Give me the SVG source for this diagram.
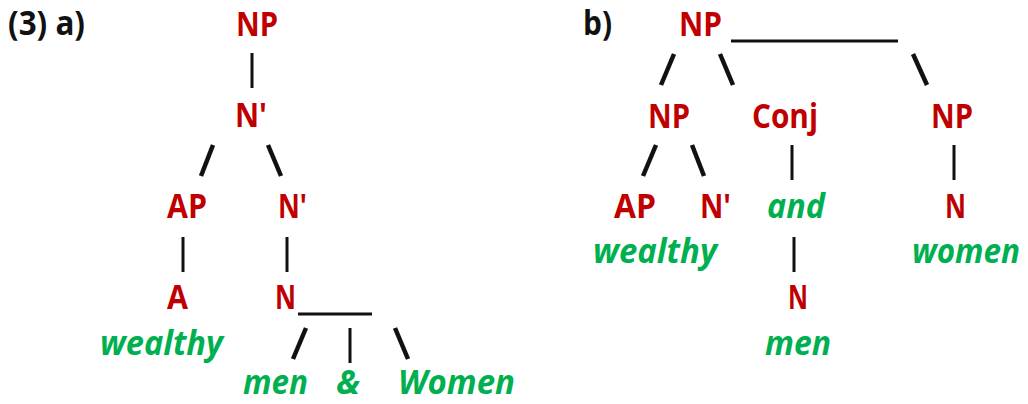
<svg xmlns="http://www.w3.org/2000/svg" width="1028" height="404" viewBox="0 0 1028 404">
<style>
text{font-family:"Open Sans","Liberation Sans",sans-serif;font-weight:bold;font-size:34px}
.lbl{fill:#111}
.cat{fill:#C00000}
.word{fill:#00B050;font-style:italic}
.c line{stroke:#111;stroke-width:3}
.c line.s{stroke-width:4.5}
</style>
<rect width="1028" height="404" fill="#fff"/>
<text class="lbl" x="8" y="35" textLength="77" lengthAdjust="spacingAndGlyphs">(3) a)</text>
<text class="lbl" x="583" y="35" textLength="29" lengthAdjust="spacingAndGlyphs">b)</text>
<g class="c" id="connectors">
<line x1="252" y1="53" x2="252" y2="88"/>
<line class="s" x1="213" y1="145" x2="201" y2="176"/>
<line class="s" x1="268" y1="145" x2="281" y2="176"/>
<line x1="183" y1="237" x2="183" y2="272"/>
<line x1="287" y1="237" x2="287" y2="272"/>
<line x1="298" y1="314" x2="372" y2="314"/>
<line class="s" x1="306" y1="328" x2="293" y2="359"/>
<line x1="350" y1="328" x2="350" y2="363"/>
<line class="s" x1="395" y1="328" x2="408" y2="359"/>
<line x1="731" y1="41" x2="898" y2="41"/>
<line class="s" x1="674" y1="54" x2="661" y2="85"/>
<line class="s" x1="720" y1="54" x2="733" y2="85"/>
<line class="s" x1="913" y1="54" x2="927" y2="85"/>
<line class="s" x1="656" y1="145" x2="643" y2="176"/>
<line class="s" x1="692" y1="145" x2="704" y2="176"/>
<line x1="792" y1="145" x2="792" y2="180"/>
<line x1="954" y1="145" x2="954" y2="180"/>
<line x1="794" y1="237" x2="794" y2="272"/>
</g>
<g id="a-np"><text class="cat" x="236" y="36" textLength="42" lengthAdjust="spacingAndGlyphs">NP</text></g>
<g id="a-nbar1"><text class="cat" x="235" y="127" textLength="32" lengthAdjust="spacingAndGlyphs">N'</text></g>
<g id="a-ap"><text class="cat" x="167" y="218" textLength="40" lengthAdjust="spacingAndGlyphs">AP</text></g>
<g id="a-nbar2"><text class="cat" x="278" y="218" textLength="29" lengthAdjust="spacingAndGlyphs">N'</text></g>
<g id="a-a"><text class="cat" x="167" y="309" textLength="21" lengthAdjust="spacingAndGlyphs">A</text></g>
<g id="a-n"><text class="cat" x="275" y="309" textLength="21" lengthAdjust="spacingAndGlyphs">N</text></g>
<g id="a-wealthy"><text class="word" x="100" y="355" textLength="123" lengthAdjust="spacingAndGlyphs">wealthy</text></g>
<g id="a-men"><text class="word" x="243" y="394" textLength="65" lengthAdjust="spacingAndGlyphs">men</text></g>
<g id="a-amp"><text class="word" x="336" y="394" textLength="24" lengthAdjust="spacingAndGlyphs">&amp;</text></g>
<g id="a-women"><text class="word" x="398" y="394" textLength="117" lengthAdjust="spacingAndGlyphs">Women</text></g>
<g id="b-np"><text class="cat" x="679" y="36" textLength="43" lengthAdjust="spacingAndGlyphs">NP</text></g>
<g id="b-np1"><text class="cat" x="648" y="128" textLength="42" lengthAdjust="spacingAndGlyphs">NP</text></g>
<g id="b-conj"><text class="cat" x="752" y="128" textLength="66" lengthAdjust="spacingAndGlyphs">Conj</text></g>
<g id="b-np2"><text class="cat" x="931" y="128" textLength="42" lengthAdjust="spacingAndGlyphs">NP</text></g>
<g id="b-ap"><text class="cat" x="614" y="218" textLength="42" lengthAdjust="spacingAndGlyphs">AP</text></g>
<g id="b-nbar"><text class="cat" x="700" y="218" textLength="31" lengthAdjust="spacingAndGlyphs">N'</text></g>
<g id="b-and"><text class="word" x="767" y="218" textLength="58" lengthAdjust="spacingAndGlyphs">and</text></g>
<g id="b-n2"><text class="cat" x="945" y="218" textLength="21" lengthAdjust="spacingAndGlyphs">N</text></g>
<g id="b-wealthy"><text class="word" x="593" y="263" textLength="124" lengthAdjust="spacingAndGlyphs">wealthy</text></g>
<g id="b-women"><text class="word" x="912" y="263" textLength="108" lengthAdjust="spacingAndGlyphs">women</text></g>
<g id="b-n1"><text class="cat" x="788" y="309" textLength="20" lengthAdjust="spacingAndGlyphs">N</text></g>
<g id="b-men"><text class="word" x="765" y="355" textLength="66" lengthAdjust="spacingAndGlyphs">men</text></g>
</svg>
